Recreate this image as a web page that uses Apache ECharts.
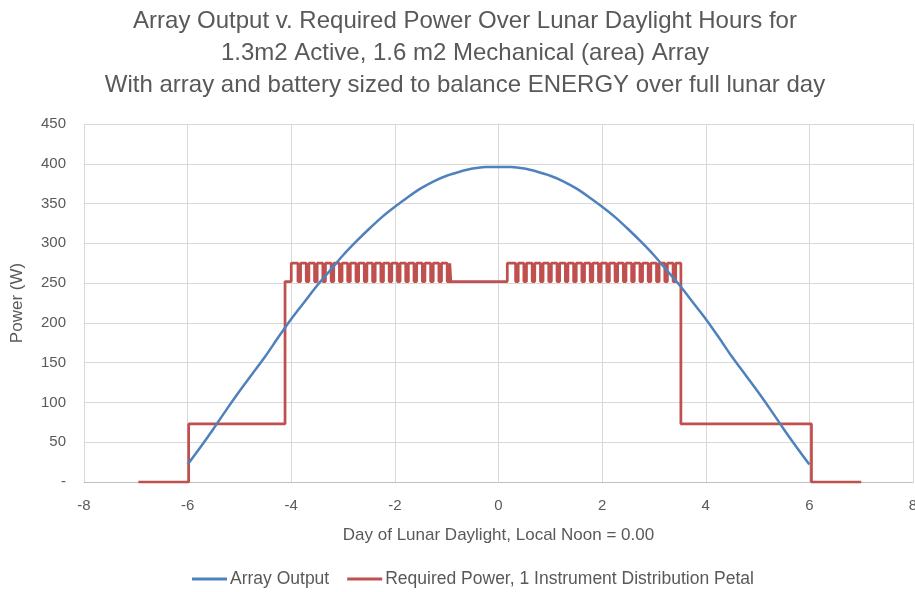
<!DOCTYPE html>
<html>
<head>
<meta charset="utf-8">
<script src="https://cdn.jsdelivr.net/npm/echarts@6/dist/echarts.min.js"></script>
<style>
    html, body { margin: 0; padding: 0; background: #fff; }
    #lunar_power_chart { width: 915px; height: 592px; }
</style>
</head>
<body>
<div id="lunar_power_chart"></div>
<script>
    // array output curve (day, W)
    let arrayDays = [-6, -5.75, -5.5, -5.25, -5, -4.75, -4.5, -4.25, -4, -3.75, -3.5, -3.25, -3, -2.75, -2.5, -2.25, -2, -1.75, -1.5, -1.25, -1, -0.75, -0.5, -0.25,
        0, 0.25, 0.5, 0.75, 1, 1.25, 1.5, 1.75, 2, 2.25, 2.5, 2.75, 3, 3.25, 3.5, 3.75, 4, 4.25, 4.5, 4.75, 5, 5.25, 5.5, 5.75, 6];
    let arrayPower = [22, 44, 67, 91, 114, 136, 158, 182, 205, 226, 247, 266, 285, 302, 318, 333, 346, 358, 369, 378, 385, 390, 394, 396,
        396, 396, 394, 390, 385, 378, 369, 358, 346, 333, 318, 302, 285, 266, 247, 226, 205, 182, 158, 136, 114, 91, 67, 44, 22];

    // required power: step levels and switch times
    let levelOff = 0;
    let levelLow = 73;
    let levelBase = 252;
    let levelPeak = 275;
    let stepDays = [-6.95, -5.98, -4.12, -4.0, -0.92, 0.17, 3.52, 6.04, 7.0];
    // times where the peak load briefly drops back to base
    let dipsLeft = [-3.87, -3.71, -3.55, -3.39, -3.23, -3.07, -2.91, -2.75, -2.59, -2.43, -2.27, -2.11, -1.95, -1.79, -1.63, -1.47, -1.31, -1.15, -0.99];
    let dipsRight = [0.33, 0.49, 0.65, 0.81, 0.97, 1.13, 1.29, 1.45, 1.61, 1.77, 1.93, 2.09, 2.25, 2.41, 2.57, 2.73, 2.89, 3.05, 3.21, 3.37];
    let dipWidth = 0.05;

    let xTicks = [-8, -6, -4, -2, 0, 2, 4, 6, 8];

    function buildArray() {
        let out = [];
        for (let i = 0; i < arrayDays.length; i++) {
            out.push([arrayDays[i], arrayPower[i]]);
        }
        return out;
    }

    function addDips(out, dips) {
        for (let i = 0; i < dips.length; i++) {
            let t = dips[i];
            out.push([t, levelPeak], [t, levelBase], [t + dipWidth, levelBase], [t + dipWidth, levelPeak]);
        }
    }

    function buildRequired() {
        let s = stepDays;
        let out = [];
        out.push([s[0], levelOff], [s[1], levelOff], [s[1], levelLow], [s[2], levelLow], [s[2], levelBase], [s[3], levelBase], [s[3], levelPeak]);
        addDips(out, dipsLeft);
        out.push([s[4], levelPeak], [s[4], levelBase], [s[5], levelBase], [s[5], levelPeak]);
        addDips(out, dipsRight);
        out.push([s[6], levelPeak], [s[6], levelLow], [s[7], levelLow], [s[7], levelOff], [s[8], levelOff]);
        return out;
    }

    let chart = echarts.init(document.getElementById('lunar_power_chart'));
    let fontName = 'Liberation Sans';
    let txtColor = '#595959';

    const option = {
        animation: false,
        title: {
            text: 'Array Output v. Required Power Over Lunar Daylight Hours for\n1.3m2 Active, 1.6 m2 Mechanical (area) Array\nWith array and battery sized to balance ENERGY over full lunar day',
            left: 460,
            top: 0,
            textAlign: 'center',
            textStyle: {
                fontFamily: fontName,
                fontSize: 24,
                fontWeight: 'normal',
                color: txtColor,
                lineHeight: 32
            }
        },
        legend: {
            left: 187,
            top: 565,
            itemWidth: 35,
            itemHeight: 3,
            itemGap: 18,
            icon: 'rect',
            textStyle: { fontFamily: fontName, fontSize: 17.5, color: txtColor, padding: [0, 0, 0, -2] },
            data: ['Array Output', 'Required Power, 1 Instrument Distribution Petal']
        },
        grid: {
            left: 84,
            right: 2,
            top: 124,
            bottom: 110,
            outerBoundsMode: 'none'
        },
        xAxis: {
            type: 'value',
            min: xTicks[0],
            max: xTicks[xTicks.length - 1],
            interval: 2,
            name: 'Day of Lunar Daylight, Local Noon = 0.00',
            nameLocation: 'middle',
            nameGap: 45,
            nameTextStyle: { fontFamily: fontName, fontSize: 17, color: txtColor },
            axisLine: { onZero: false, lineStyle: { color: '#bfbfbf', width: 1 } },
            axisTick: { show: false },
            axisLabel: { fontFamily: fontName, fontSize: 15, color: txtColor, margin: 16 },
            splitLine: { show: true, lineStyle: { color: '#d9d9d9', width: 1 } }
        },
        yAxis: {
            type: 'value',
            min: 0,
            max: 450,
            interval: 50,
            name: 'Power (W)',
            nameLocation: 'middle',
            nameGap: 58,
            nameTextStyle: { fontFamily: fontName, fontSize: 17, color: txtColor },
            axisLine: { show: true, lineStyle: { color: '#d9d9d9', width: 1 } },
            axisTick: { show: false },
            axisLabel: {
                fontFamily: fontName, fontSize: 15, color: txtColor, margin: 18,
                formatter: function (v) { return v === 0 ? '-' : v; }
            },
            splitLine: { show: true, lineStyle: { color: '#d9d9d9', width: 1 } }
        },
        series: [
            {
                name: 'Required Power, 1 Instrument Distribution Petal',
                type: 'line',
                data: buildRequired(),
                symbol: 'none',
                lineStyle: { color: '#c0504d', width: 2.75 },
                itemStyle: { color: '#c0504d' },
                z: 2
            },
            {
                name: 'Array Output',
                type: 'line',
                data: buildArray(),
                smooth: 0.3,
                symbol: 'none',
                lineStyle: { color: '#4f81bd', width: 2.5 },
                itemStyle: { color: '#4f81bd' },
                z: 3
            }
        ]
    };

    chart.setOption(option);
</script>
</body>
</html>
